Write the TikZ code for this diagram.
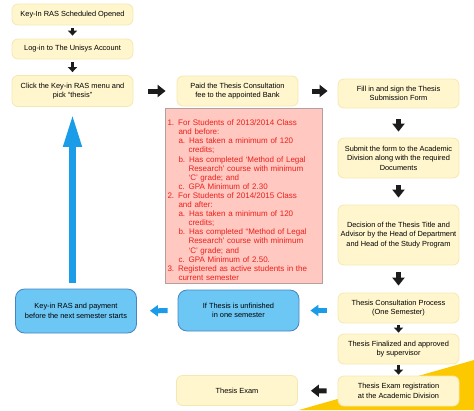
\documentclass[tikz,border=0pt]{standalone}
\usepackage{fontspec}
\setmainfont{Liberation Sans}
\usepackage{xcolor}
\usepackage{tikz}
\usetikzlibrary{arrows.meta,shadows}

\definecolor{yfill}{RGB}{255,246,206}
\definecolor{yline}{RGB}{244,232,176}
\definecolor{bfill}{RGB}{108,199,245}
\definecolor{bline}{RGB}{72,132,196}
\definecolor{barrow}{RGB}{26,156,232}
\definecolor{rfill}{RGB}{255,200,192}
\definecolor{rline}{RGB}{178,160,160}
\definecolor{rtext}{RGB}{236,32,28}
\definecolor{wedge}{RGB}{252,200,0}
\definecolor{darr}{RGB}{28,28,28}

\newcommand{\reqi}{\hspace*{11pt}}
\newcommand{\reqii}{\hspace*{21pt}}

\tikzset{
 ybox/.style={draw=yline, fill=yfill, line width=0.8pt, rounded corners=6pt, minimum width=121pt, inner sep=2pt, align=center, font=\fontsize{7.4}{9.4}\selectfont},
 bbox/.style={draw=bline, fill=bfill, line width=0.8pt, rounded corners=9pt, minimum width=121pt, inner sep=2pt, align=center, font=\fontsize{7.4}{9.4}\selectfont},
 reqbox/.style={draw=rline, fill=rfill, line width=0.8pt, minimum height=175pt, text width=152pt, inner sep=2.5pt, align=left, text=rtext, font=\fontsize{8}{9.1}\selectfont, drop shadow={opacity=0.2, shadow xshift=1.2pt, shadow yshift=-1.2pt}},
 bigarr/.style={draw=darr, line width=5pt, -{Triangle[width=12pt,length=8pt]}},
 smallarr/.style={draw=darr, line width=3.5pt, -{Triangle[width=9pt,length=5pt]}},
 bluearr/.style={draw=barrow, line width=5pt, -{Triangle[width=11pt,length=8pt]}},
 uparr/.style={draw=barrow, line width=7pt, -{Triangle[width=17pt,length=33pt]}}
}

\begin{document}
\begin{tikzpicture}[x=1pt,y=-1pt]
 \useasboundingbox (0,0) rectangle (474,410);
 \fill[wedge] (299,410) -- (474,360) -- (474,410) -- cycle;
 \node[ybox, minimum height=21pt] (open) at (72.5,14.5) {Key-In RAS Scheduled Opened};
 \node[ybox, minimum height=20pt] (login) at (72.5,49) {Log-in to The Unisys Account};
 \node[ybox, minimum height=31pt] (pick) at (72.5,91) {Click the Key-in RAS menu and\\pick “thesis”};
 \node[ybox, minimum height=30pt] (pay) at (237.5,91) {Paid the Thesis Consultation\\fee to the appointed Bank};
 \node[ybox, minimum height=29pt] (form) at (398.5,93.5) {Fill in and sign the Thesis\\Submission Form};
 \node[ybox, minimum height=40pt] (submit) at (398.5,158) {Submit the form to the Academic\\Division along with the required\\Documents};
 \node[ybox, minimum height=60pt] (decide) at (398.5,235) {Decision of the Thesis Title and\\Advisor by the Head of Department\\and Head of the Study Program};
 \node[ybox, minimum height=30pt] (consult) at (398.5,308) {Thesis Consultation Process\\(One Semester)};
 \node[ybox, minimum height=30pt] (final) at (398.5,349) {Thesis Finalized and approved\\by supervisor};
 \node[ybox, minimum height=30pt] (examreg) at (398.5,391) {Thesis Exam registration\\at the Academic Division};
 \node[ybox, minimum height=30pt] (exam) at (237,390.5) {Thesis Exam};
 \node[bbox, minimum height=41pt] (unfin) at (238.5,310.5) {If Thesis is unfinished\\in one semester};
 \node[bbox, minimum height=44pt] (rekey) at (76,311) {Key-in RAS and payment\\before the next semester starts};
 \node[reqbox] (req) at (243.5,195.5) {\rule{0pt}{15pt}1. For Students of 2013/2014 Class\\
  \reqi and before:\\
  \reqi a. Has taken a minimum of 120\\
  \reqii credits;\\
  \reqi b. Has completed ‘Method of Legal\\
  \reqii Research’ course with minimum\\
  \reqii ‘C’ grade; and\\
  \reqi c. GPA Minimum of 2.30\\
  2. For Students of 2014/2015 Class\\
  \reqi and after:\\
  \reqi a. Has taken a minimum of 120\\
  \reqii credits;\\
  \reqi b. Has completed “Method of Legal\\
  \reqii Research’ course with minimum\\
  \reqii ‘C’ grade; and\\
  \reqi c. GPA Minimum of 2.50.\\
  3. Registered as active students in the\\
  \reqi current semester};
 \draw[smallarr, shorten <=3pt, shorten >=3pt] (open) -- (login);
 \draw[smallarr, shorten <=3pt, shorten >=3pt] (login) -- (pick);
 \draw[bigarr, shorten <=15pt, shorten >=11pt] (pick) -- (pay);
 \draw[bigarr, shorten <=14pt, shorten >=10pt] (pay.east) -- (pay.east -| form.west);
 \draw[bigarr, shorten <=11pt, shorten >=6pt] (form) -- (submit);
 \draw[bigarr, shorten <=7pt, shorten >=7pt] (submit) -- (decide);
 \draw[bigarr, shorten <=7pt, shorten >=7pt] (decide) -- (consult);
 \draw[smallarr, shorten <=2pt, shorten >=1pt] (consult) -- (final);
 \draw[smallarr, shorten <=1pt, shorten >=1pt] (final) -- (examreg);
 \draw[bigarr, shorten <=11pt, shorten >=13pt] (examreg) -- (exam);
 \draw[bluearr, shorten <=11pt, shorten >=11pt] (consult.west |- unfin) -- (unfin);
 \draw[bluearr, shorten <=10pt, shorten >=13pt] (unfin) -- (rekey);
 \draw[uparr, shorten <=6pt, shorten >=7pt] (rekey.north -| pick.south) -- (pick.south);
\end{tikzpicture}
\end{document}
